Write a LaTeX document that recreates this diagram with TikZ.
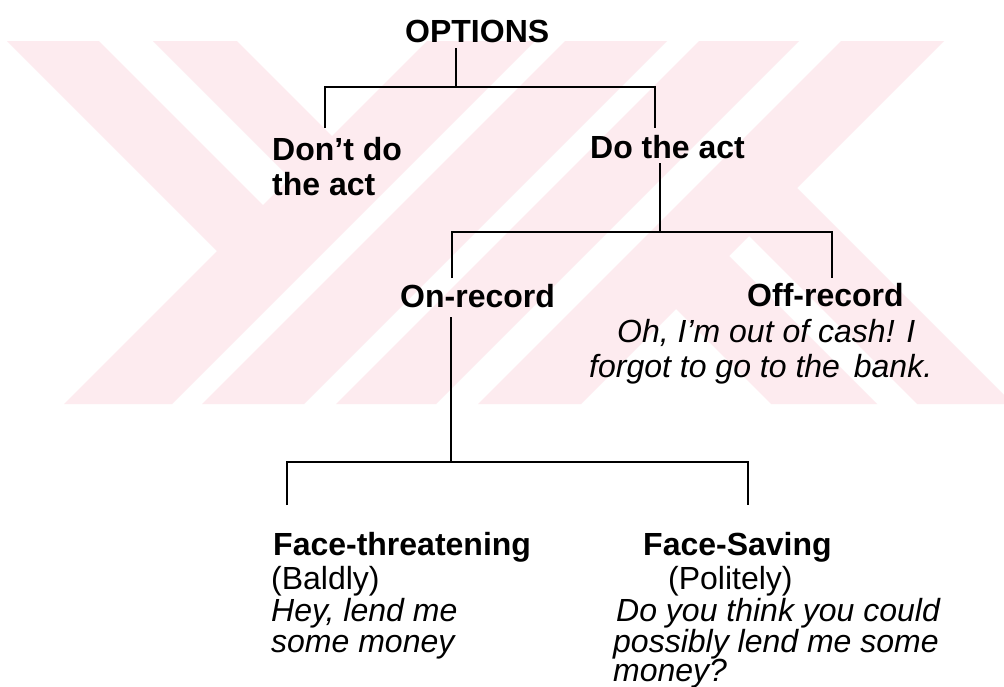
\documentclass[tikz,border=0pt]{standalone}
\usepackage{fontspec}
\setmainfont{Liberation Sans}
\definecolor{wm}{RGB}{253,235,239}
\begin{document}
\begin{tikzpicture}[x=1pt,y=-1pt,
  conn/.style={line width=1.8pt,draw=black},
  txt/.style={inner sep=0pt,anchor=base west,font=\fontsize{32}{36}\selectfont},
  bold/.style={txt,font=\fontsize{32}{36}\selectfont\bfseries},
  ital/.style={txt,font=\fontsize{32}{36}\selectfont\itshape}]
\fill[white] (0,0) rectangle (1004,686);
\useasboundingbox (0,0) rectangle (1004,686);
% watermark
\begin{scope}
\clip (0,41) rectangle (1004,404);
\fill[wm] (427,41) -- (535,41) -- (172,404) -- (64,404) -- cycle;
\fill[wm] (565,41) -- (667,41) -- (304,404) -- (202,404) -- cycle;
\fill[wm] (699,41) -- (799,41) -- (436,404) -- (336,404) -- cycle;
\fill[wm] (841,41) -- (944,41) -- (581,404) -- (478,404) -- cycle;
\fill[wm] (7,41) -- (99,41) -- (269,211) -- (223,257) -- cycle;
\fill[wm] (153,41) -- (237,41) -- (338,142) -- (296,184) -- cycle;
\fill[wm] (791,182) -- (743,230) -- (917,404) -- (1013,404) -- cycle;
\fill[wm] (723,250) -- (670,303) -- (771,404) -- (877,404) -- cycle;
\end{scope}
% text nodes
\node[bold] (opt) at (405,42) {OPTIONS};
\node[bold] (dont1) at (272,160) {Don't do};
\node[bold] (dont2) at (272,195) {the act};
\node[bold] (doact) at (590,158) {Do the act};
\node[bold] (onrec) at (400,307) {On-record};
\node[bold] (offrec) at (747,306) {Off-record};
\node[ital] (off1) at (617,342) {Oh, I'm out of cash! I};
\node[ital] (off2) at (589,377) {forgot to go to the\hspace{5pt} bank.};
\node[bold] (ft) at (273,555) {Face-threatening};
\node[txt] (bald) at (271,589) {(Baldly)};
\node[ital] (ft1) at (271,621) {Hey, lend me};
\node[ital] (ft2) at (271,652) {some money};
\node[bold] (fs) at (643,555) {Face-Saving};
\node[txt] (pol) at (668,589) {(Politely)};
\node[ital] (fs1) at (616,621) {Do you think you could};
\node[ital] (fs2) at (613,652) {possibly lend me some};
\node[ital] (fs3) at (613,681) {money?};
% connector points
\coordinate (t0) at (456,48);
\coordinate (j1) at (456,87);
\coordinate (d1) at (325,128);
\coordinate (d2) at (655,128);
\coordinate (t1) at (660,163);
\coordinate (j2) at (660,232);
\coordinate (d3) at (452,278);
\coordinate (d4) at (832,278);
\coordinate (t2) at (451,317);
\coordinate (j3) at (451,462);
\coordinate (d5) at (287,505);
\coordinate (d6) at (748,505);
\draw[conn] (t0) -- (j1);
\draw[conn] (d1) |- (j1) -| (d2);
\draw[conn] (t1) -- (j2);
\draw[conn] (d3) |- (j2) -| (d4);
\draw[conn] (t2) -- (j3);
\draw[conn] (d5) |- (j3) -| (d6);
\end{tikzpicture}
\end{document}
